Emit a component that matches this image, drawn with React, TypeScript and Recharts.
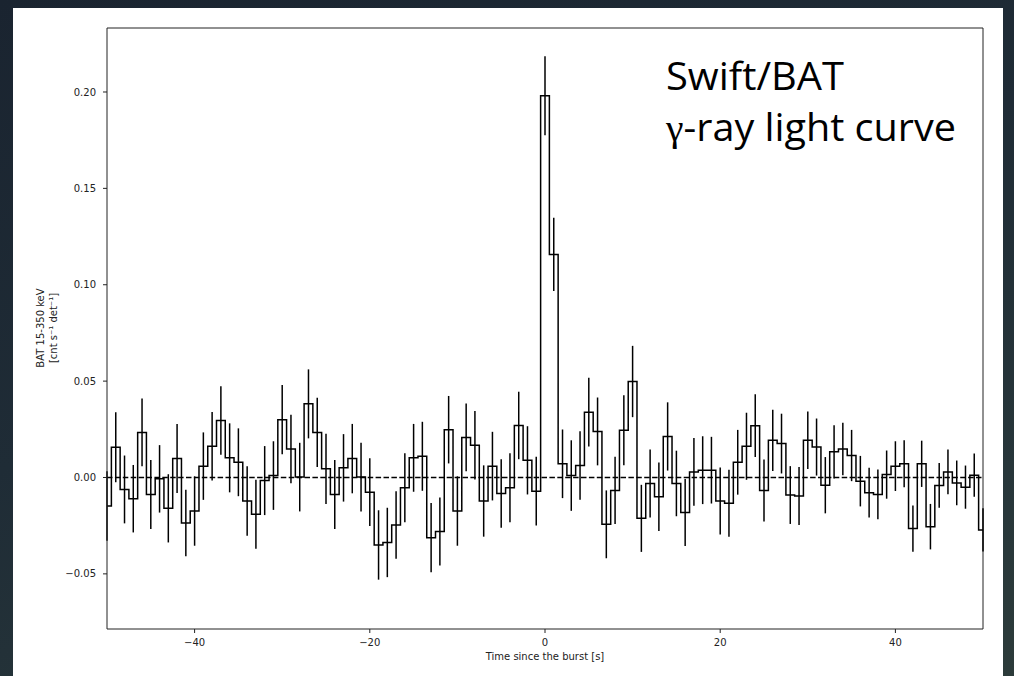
import React from 'react';
import {ErrorBar, Line, LineChart, ReferenceLine, XAxis, YAxis} from 'recharts';

// time since the burst [s], 1 s bins
const TIME = [
  -50, -49, -48, -47, -46, -45, -44, -43, -42, -41, -40, -39, -38, -37, -36, -35, -34,
  -33, -32, -31, -30, -29, -28, -27, -26, -25, -24, -23, -22, -21, -20, -19, -18, -17,
  -16, -15, -14, -13, -12, -11, -10, -9, -8, -7, -6, -5, -4, -3, -2, -1, 0, 1, 2, 3, 4,
  5, 6, 7, 8, 9, 10, 11, 12, 13, 14, 15, 16, 17, 18, 19, 20, 21, 22, 23, 24, 25, 26, 27,
  28, 29, 30, 31, 32, 33, 34, 35, 36, 37, 38, 39, 40, 41, 42, 43, 44, 45, 46, 47, 48, 49,
  50,
];

// BAT 15-350 keV rate [cnt s^-1 det^-1]
const RATE = [
  -0.0148, 0.0157, -0.0062, -0.011, 0.0234, -0.0088, -0.0007, -0.016, 0.0098, -0.0236,
  -0.0174, 0.0059, 0.0162, 0.0296, 0.0102, 0.0079, -0.0122, -0.0191, -0.0016, 0.001,
  0.03, 0.0148, 0.0002, 0.0382, 0.0234, 0.0045, -0.0088, 0.005, 0.0098, 0.0002,
  -0.0076, -0.035, -0.0337, -0.0246, -0.0053, 0.0102, 0.011, -0.0312, -0.028, 0.0248,
  -0.0174, 0.0208, 0.0167, -0.0122, 0.0059, -0.0083, -0.0053, 0.027, 0.0089, -0.0071,
  0.198, 0.1157, 0.0071, 0.001, 0.0062, 0.0339, 0.0239, -0.0243, -0.0067, 0.0245,
  0.0498, -0.0212, -0.0031, -0.01, 0.0213, -0.0031, -0.0182, 0.0029, 0.0038, 0.0038,
  -0.0122, -0.0134, 0.0079, 0.0162, 0.0269, -0.0067, 0.0193, 0.0176, -0.0091, -0.0096,
  0.0193, 0.0158, -0.004, 0.0133, 0.0148, 0.0114, -0.0019, -0.0079, -0.0088, 0.0015,
  0.0059, 0.0071, -0.0265, 0.0071, -0.0255, -0.0041, 0.0029, -0.0028, -0.005, 0.0012,
  -0.0272,
];

const RATE_ERR = [
  0.018, 0.0182, 0.0176, 0.0175, 0.0176, 0.0179, 0.0175, 0.0177, 0.0179, 0.0172,
  0.018, 0.0175, 0.0178, 0.0178, 0.0179, 0.0176, 0.018, 0.0179, 0.0179, 0.0178,
  0.018, 0.0178, 0.0178, 0.0179, 0.018, 0.0182, 0.0179, 0.0175, 0.018, 0.0178,
  0.0176, 0.018, 0.018, 0.0175, 0.0179, 0.0176, 0.0179, 0.018, 0.0176, 0.0175,
  0.018, 0.0176, 0.0178, 0.0185, 0.0178, 0.0178, 0.0179, 0.0175, 0.0177, 0.0178,
  0.0205, 0.019, 0.0178, 0.0183, 0.0178, 0.0178, 0.0176, 0.0176, 0.0174, 0.0182,
  0.0185, 0.0174, 0.0176, 0.0178, 0.0177, 0.017, 0.0174, 0.0176, 0.0176, 0.0173,
  0.0174, 0.0174, 0.0168, 0.0174, 0.0163, 0.0161, 0.0159, 0.0155, 0.015, 0.015,
  0.0149, 0.0148, 0.0146, 0.0138, 0.0136, 0.0133, 0.0131, 0.0129, 0.0129, 0.0125,
  0.0129, 0.0122, 0.012, 0.012, 0.0118, 0.0116, 0.0116, 0.0116, 0.0112, 0.0112,
  0.0112,
];

const X_DOMAIN = [-50, 50];
const Y_DOMAIN = [-0.0786, 0.2332];
const X_TICKS = [-40, -20, 0, 20, 40];
const Y_TICKS = [-0.05, 0, 0.05, 0.1, 0.15, 0.2];

const data = TIME.map((t, i) => ({t, rate: RATE[i], err: RATE_ERR[i]}));

const AXIS_COLOR = '#222';
const tickStyle = {fill: '#222', fontSize: 10, fontFamily: 'DejaVu Sans'};
const uminus = (s: string) => s.replace('-', '\u2212');

export default function App() {
  return (
    <div
      style={{
        position: 'absolute',
        left: 0,
        top: 0,
        width: 1014,
        height: 676,
        overflow: 'hidden',
        background:
          'linear-gradient(160deg, #1a2430 0%, #1f2c36 45%, #27363a 80%, #2c3b3a 100%)',
      }}>
      <div
        style={{
          position: 'absolute',
          left: 13,
          top: 8,
          width: 990,
          height: 668,
          background: '#fff',
        }}
      />
      <LineChart
        width={1014}
        height={676}
        data={data}
        margin={{top: 28, right: 31, bottom: 0, left: 0}}
        style={{position: 'absolute', left: 0, top: 0}}>
        <XAxis
          dataKey="t"
          type="number"
          domain={X_DOMAIN}
          ticks={X_TICKS}
          allowDataOverflow
          tickFormatter={(v: number) => uminus(String(v))}
          height={47}
          tickSize={4}
          tickMargin={6}
          axisLine={{stroke: AXIS_COLOR}}
          tickLine={{stroke: AXIS_COLOR}}
          tick={tickStyle}
        />
        <YAxis
          type="number"
          domain={Y_DOMAIN}
          ticks={Y_TICKS}
          allowDataOverflow
          tickFormatter={(v: number) => uminus(v.toFixed(2))}
          width={107}
          tickSize={4}
          tickMargin={7}
          axisLine={{stroke: AXIS_COLOR}}
          tickLine={{stroke: AXIS_COLOR}}
          tick={tickStyle}
        />
        {/* top and right spines */}
        <ReferenceLine y={Y_DOMAIN[1]} stroke={AXIS_COLOR} strokeWidth={1} />
        <ReferenceLine x={X_DOMAIN[1]} stroke={AXIS_COLOR} strokeWidth={1} />
        <ReferenceLine y={0} stroke="#000" strokeWidth={1.5} strokeDasharray="5.5 2.4" />
        <Line
          dataKey="rate"
          type="step"
          stroke="#000"
          strokeWidth={1.5}
          dot={false}
          activeDot={false}
          isAnimationActive={false}>
          <ErrorBar
            dataKey="err"
            direction="y"
            width={0}
            stroke="#000"
            strokeWidth={1.5}
            isAnimationActive={false}
          />
        </Line>
      </LineChart>
      <svg
        width={1014}
        height={676}
        style={{position: 'absolute', left: 0, top: 0, pointerEvents: 'none'}}>
        <text
          x={545}
          y={656}
          textAnchor="middle"
          dominantBaseline="central"
          fontSize={10}
          fontFamily="DejaVu Sans"
          fill="#222">
          Time since the burst [s]
        </text>
        <g transform="translate(40,328) rotate(-90)" fontSize={10} fontFamily="DejaVu Sans" fill="#222">
          <text x={0} y={0} textAnchor="middle" dominantBaseline="central">
            BAT 15-350 keV
          </text>
          <text x={0} y={13} textAnchor="middle" dominantBaseline="central">
            [cnt s⁻¹ det⁻¹]
          </text>
        </g>
        <text x={666} y={90} fontSize={38} fontFamily="Open Sans" fill="#000" textLength={178} lengthAdjust="spacingAndGlyphs">
          Swift/BAT
        </text>
        <text x={666} y={141} fontSize={38} fontFamily="Open Sans" fill="#000" textLength={290} lengthAdjust="spacingAndGlyphs">
          <tspan fontFamily="Liberation Serif">γ</tspan>
          <tspan>-ray light curve</tspan>
        </text>
      </svg>
    </div>
  );
}
